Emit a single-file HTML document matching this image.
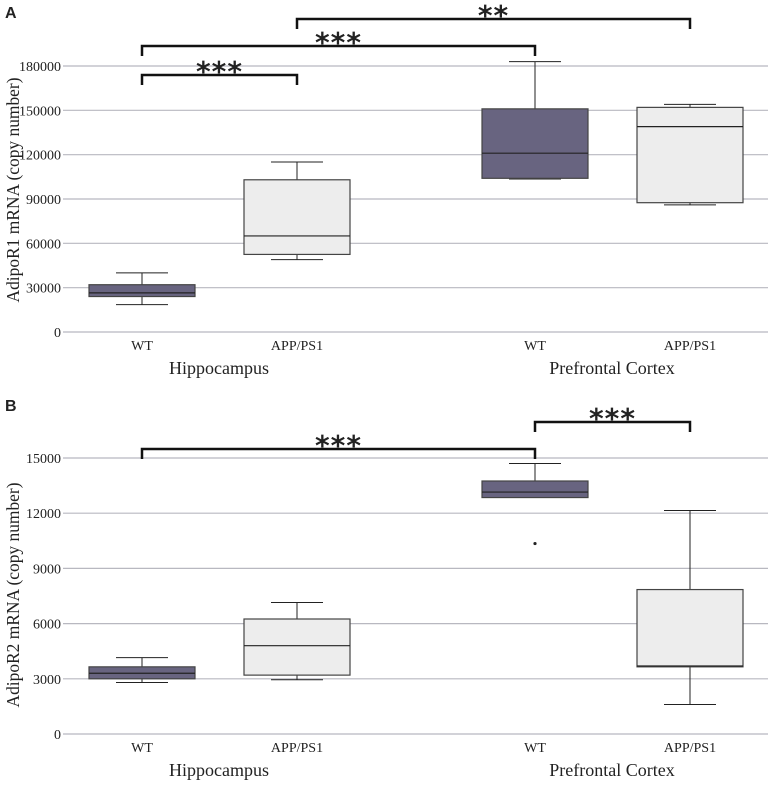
<!DOCTYPE html>
<html><head><meta charset="utf-8"><style>
body{margin:0;background:#fff;width:773px;height:784px;overflow:hidden}
svg text{font-family:"Liberation Serif",serif;fill:#222}
</style></head><body>
<svg id="chart" width="773" height="784" xmlns="http://www.w3.org/2000/svg"></svg>
<script>
const categories=["WT","APP/PS1","WT","APP/PS1"];
const groups=["Hippocampus","Prefrontal Cortex"];
// [lowWhisker, q1, median, q3, highWhisker]
const r1Stats=[[18500,24000,26500,32000,40000],[49000,52500,65000,103000,115000],[103500,104000,121000,151000,183000],[86000,87500,139000,152000,154000]];
const r2Stats=[[2800,3000,3300,3650,4150],[2950,3200,4800,6250,7150],[12850,12850,13150,13750,14700],[1600,3650,3700,7850,12150]];
const r2Outliers=[[2,10350]];
const r1Ticks=[0,30000,60000,90000,120000,150000,180000];
const r2Ticks=[0,3000,6000,9000,12000,15000];
const r1Brackets=[[0,1,"***",0],[0,2,"***",1],[1,3,"**",2]];
const r2Brackets=[[0,2,"***",0],[2,3,"***",1]];
const fills=["#686480","#ededed","#686480","#ededed"];
const svg=document.getElementById('chart');
const NS="http://www.w3.org/2000/svg";
function mk(tag,attrs,parent){const e=document.createElementNS(NS,tag);for(const k in attrs)e.setAttribute(k,attrs[k]);(parent||svg).appendChild(e);return e;}
const xc=[142,297,535,690];
function panel(p){
  const y=v=>p.y0-(v/p.max)*(p.y0-p.yTop);
  const g=mk('g',{});
  
  
  const L=mk('text',{x:5,y:p.letterY,'font-size':16,'font-weight':'bold',style:'font-family:"Liberation Sans",sans-serif'},g);
  L.textContent=p.letter;
  p.ticks.forEach(t=>{
    const ln=mk('line',{x1:63,x2:768,y1:y(t),y2:y(t),stroke:'#b8b8c0','stroke-width':1.2},g);
    
    const tx=mk('text',{x:61,y:y(t)+5,'text-anchor':'end','font-size':14},g);
    tx.textContent=t;
  });
  const yt=mk('text',{x:0,y:0,'text-anchor':'middle','font-size':18,textLength:225,lengthAdjust:'spacingAndGlyphs',transform:`translate(19,${p.titleY}) rotate(-90)`},g);
  yt.textContent=p.title;
  p.stats.forEach((s,i)=>{
    const c=xc[i],bg=mk('g',{},g);
    
    mk('line',{x1:c,x2:c,y1:y(s[4]),y2:y(s[3]),stroke:'#222'},bg);
    mk('line',{x1:c,x2:c,y1:y(s[1]),y2:y(s[0]),stroke:'#222'},bg);
    mk('line',{x1:c-26,x2:c+26,y1:y(s[4]),y2:y(s[4]),stroke:'#222'},bg);
    mk('line',{x1:c-26,x2:c+26,y1:y(s[0]),y2:y(s[0]),stroke:'#222'},bg);
    mk('rect',{x:c-53,y:y(s[3]),width:106,height:y(s[1])-y(s[3]),fill:fills[i],stroke:'#444','stroke-width':1.2},bg);
    mk('line',{x1:c-53,x2:c+53,y1:y(s[2]),y2:y(s[2]),stroke:'#222','stroke-width':1.2},bg);
    const cl=mk('text',{x:c,y:p.y0+18,'text-anchor':'middle','font-size':14},g);
    cl.textContent=categories[i];
  });
  (p.outliers||[]).forEach(o=>{
    const d=mk('circle',{cx:xc[o[0]],cy:y(o[1]),r:1.6,fill:'#222'},g);
    
  });
  groups.forEach((gr,i)=>{
    const t=mk('text',{x:i?612:219,y:p.y0+42,'text-anchor':'middle','font-size':18},g);
    t.textContent=gr;
  });
  p.brackets.forEach(b=>{
    const by=p.bY[b[3]],x1=xc[b[0]],x2=xc[b[1]];
    const pl=mk('path',{d:`M${x1} ${by+10}V${by}H${x2}V${by+10}`,fill:'none',stroke:'#111','stroke-width':2.5},g);
    
    const st=mk('text',{x:(x1+x2)/2,y:by+6,'text-anchor':'middle','font-size':28,'font-weight':'bold','letter-spacing':'1',style:'font-family:"DejaVu Sans",sans-serif'},g);
    st.textContent=b[2];
  });
}
panel({name:'panel-a-adipor1',letter:'A',letterY:18,y0:332,yTop:66,max:180000,ticks:r1Ticks,stats:r1Stats,title:'AdipoR1 mRNA (copy number)',titleY:190,brackets:r1Brackets,bY:[75,46,19]});
panel({name:'panel-b-adipor2',letter:'B',letterY:411,y0:734,yTop:458,max:15000,ticks:r2Ticks,stats:r2Stats,outliers:r2Outliers,title:'AdipoR2 mRNA (copy number)',titleY:595,brackets:r2Brackets,bY:[449,422]});
</script>
</body></html>
